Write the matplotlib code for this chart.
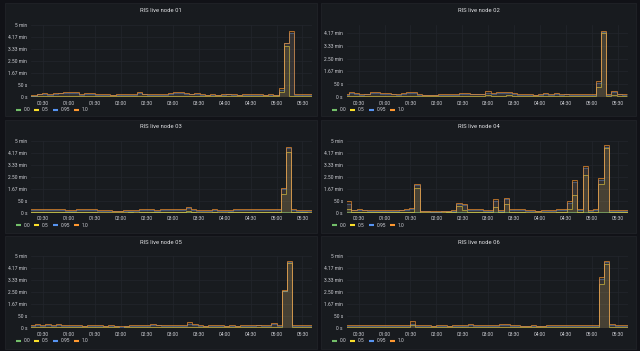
import matplotlib
matplotlib.use('Agg')
import matplotlib.pyplot as plt
from matplotlib.patches import Rectangle
from matplotlib.lines import Line2D
import numpy as np

plt.rcParams['font.family'] = ['Roboto', 'DejaVu Sans']

# ---------------- data ----------------
titles = ['RIS live node 01', 'RIS live node 02', 'RIS live node 03',
          'RIS live node 04', 'RIS live node 05', 'RIS live node 06']
series_names = ['0.0', '0.5', '0.95', '1.0']
series_colors = ['#73BF69', '#FADE2A', '#5794F2', '#FF9830']

step_min = 6.08                                # sample interval (minutes)
start_min = [10.5, 6.3, 6.7, 9.4, 8.2, 10.1]   # first sample time (minutes after 00:00)
ymax_s = [300, 281, 300, 300, 300, 300]

xtick_labels = ['00:30', '01:00', '01:30', '02:00', '02:30', '03:00',
                '03:30', '04:00', '04:30', '05:00', '05:30']
ytick_values = [0, 50, 100, 150, 200, 250, 300]
ytick_labels = ['0 s', '50 s', '1.67 min', '2.50 min', '3.33 min', '4.17 min', '5 min']

# values in seconds, one per interval
N01_p0 = [1,1,1,1,1,1,1,1,1,1,0,1,1,1,1,0,0,0,1,0,1,1,1,1,1,0,1,1,1,1,1,1,1,0,0,0,0,1,1,1,0,0,1,0,1,0,0,0,1,1,1,1,1,0,0]
N01_p50 = [3,3,4,5,4,5,5,6,6,5,3,5,5,4,4,3,3,3,4,3,4,5,4,4,4,3,4,5,6,6,5,4,5,3,3,3,3,4,4,4,3,3,4,3,4,3,3,3,20,212,5,4,4,3,3]
N01_p95 = [6,6,11,13,9,14,15,17,17,15,8,14,13,9,9,8,7,8,10,8,9,15,11,9,9,8,9,13,15,16,12,11,12,8,7,8,8,10,12,9,7,8,9,8,9,7,8,7,30,224,265,10,9,8,8]
N01_p100 = [8,8,14,17,12,17,18,21,21,19,11,18,17,12,12,11,10,11,13,11,12,19,14,12,12,11,12,17,19,19,15,14,15,11,10,11,10,12,14,12,10,11,12,11,12,10,11,10,36,226,276,13,12,11,11]

N02_p0 = [1,1,1,1,1,1,1,1,1,1,1,1,1,1,1,0,0,0,0,0,0,1,0,1,1,1,1,1,1,1,1,1,1,1,1,0,0,0,1,1,1,1,0,1,1,1,0,1,1,1,1,0,1,1,1]
N02_p50 = [3,4,5,4,4,4,5,5,4,4,4,4,4,5,5,4,3,3,3,3,3,4,3,4,5,4,4,4,6,5,5,5,6,4,4,3,3,3,4,4,4,4,3,4,4,4,3,4,4,40,249,3,6,4,4]
N02_p95 = [8,9,15,11,9,10,14,14,11,11,10,9,11,14,15,9,7,7,7,8,8,9,8,11,13,10,10,10,17,13,16,16,17,11,9,8,8,7,9,11,9,11,8,10,9,9,8,9,9,55,255,8,20,10,9]
N02_p100 = [10,12,20,14,12,13,18,18,14,14,13,12,14,18,18,12,9,9,9,10,10,12,10,14,17,13,13,13,22,17,20,20,21,14,12,10,10,9,12,14,12,14,10,13,12,12,10,12,12,62,258,10,25,13,12]

N03_p0 = [2,1,1,1,1,1,1,1,1,1,1,1,1,1,0,0,0,0,0,0,1,0,1,1,1,1,1,1,1,1,1,1,1,0,0,0,1,0,0,1,1,1,1,1,1,1,1,1,1,1,1,1,1,1,0]
N03_p50 = [11,4,4,4,5,5,4,4,4,4,4,5,5,4,3,3,3,3,3,3,4,3,4,5,4,4,4,5,5,4,4,6,5,3,3,3,5,3,3,4,4,5,5,4,5,4,4,5,4,78,254,4,4,4,3]
N03_p95 = [22,11,11,11,13,13,11,11,9,9,11,12,12,11,8,8,8,6,6,8,9,8,11,13,11,9,11,13,13,11,11,18,12,8,8,8,12,8,8,9,11,12,12,11,12,11,11,12,11,98,270,11,9,9,8]
N03_p100 = [28,14,14,14,17,17,14,14,12,12,14,15,15,14,11,10,10,8,8,11,12,11,14,17,14,12,14,17,17,14,14,22,15,11,10,11,15,11,10,12,14,15,15,14,15,14,14,15,14,102,275,14,12,12,11]

N04_p0 = [1,2,1,1,1,1,1,1,1,1,1,1,1,1,2,0,0,0,0,0,1,1,2,1,1,1,1,1,1,2,1,2,1,1,1,0,0,0,0,0,0,1,1,1,2,1,2,1,1,2,2,1,1,1,1]
N04_p50 = [3,17,4,4,4,4,4,4,3,4,4,4,4,5,104,2,2,2,2,2,3,4,28,10,5,5,5,3,4,24,4,37,5,5,4,3,3,3,3,3,3,5,4,17,75,4,158,4,4,121,269,3,3,3,3]
N04_p95 = [8,37,10,11,10,9,9,9,8,9,9,10,11,14,114,6,6,5,5,6,7,9,37,31,12,12,12,8,9,49,9,56,12,12,11,8,8,7,8,8,8,13,11,42,128,11,186,9,11,137,274,8,8,8,8]
N04_p100 = [10,50,13,14,13,12,12,12,11,12,12,13,14,21,121,8,8,7,7,8,9,12,42,35,15,15,15,10,12,58,12,61,15,15,14,10,10,9,10,11,10,17,14,50,137,14,193,12,14,144,280,11,11,10,10]

N05_p0 = [1,1,1,1,1,1,1,1,1,1,1,0,1,1,1,0,1,0,0,0,1,1,1,1,1,1,1,1,1,1,1,2,1,1,0,1,1,1,0,1,0,1,1,1,1,1,1,1,1,1,1,1,1,1,1]
N05_p50 = [4,3,5,4,5,3,5,4,3,4,3,3,4,4,3,3,3,3,2,3,3,4,3,4,5,4,4,3,4,4,4,6,5,3,3,3,4,3,3,4,3,3,4,4,4,4,3,5,4,153,273,4,4,3,4]
N05_p95 = [9,8,13,9,13,8,14,9,8,9,8,7,9,9,8,7,8,7,6,7,8,9,8,10,13,11,9,8,9,10,9,18,12,8,7,8,9,8,7,9,7,8,9,9,11,9,8,15,9,156,277,10,10,8,9]
N05_p100 = [12,11,17,12,17,11,18,12,11,12,11,10,12,12,11,10,11,10,9,10,11,12,11,13,17,14,12,11,12,13,12,25,15,11,10,11,12,11,10,12,10,11,12,12,14,12,11,20,12,160,280,14,13,11,12]

N06_p0 = [1,1,1,1,1,1,1,1,1,1,1,1,1,2,1,1,1,0,1,1,0,1,1,1,1,1,1,1,1,1,1,1,1,1,0,0,1,0,0,1,1,1,1,1,1,1,1,1,1,1,1,1,1,1,1]
N06_p50 = [3,4,3,4,3,3,4,4,3,4,4,4,4,11,4,3,3,3,3,3,3,4,3,4,5,4,3,4,4,4,4,5,4,3,3,3,3,3,3,3,4,3,4,4,4,4,4,4,4,185,269,4,4,4,4]
N06_p95 = [8,9,8,9,8,8,9,10,8,9,10,9,9,18,9,8,8,7,8,8,7,9,8,9,14,9,8,9,10,9,12,13,9,8,7,7,8,7,7,8,9,8,9,9,10,9,9,10,10,206,276,11,10,10,10]
N06_p100 = [11,12,11,12,11,11,12,13,11,12,13,12,12,28,12,11,11,10,11,11,10,12,11,12,18,12,11,12,13,12,15,17,12,11,10,10,11,10,10,11,12,11,12,12,13,12,12,13,13,213,280,15,14,13,13]

panel_series = [
    [N01_p0, N01_p50, N01_p95, N01_p100],
    [N02_p0, N02_p50, N02_p95, N02_p100],
    [N03_p0, N03_p50, N03_p95, N03_p100],
    [N04_p0, N04_p50, N04_p95, N04_p100],
    [N05_p0, N05_p50, N05_p95, N05_p100],
    [N06_p0, N06_p50, N06_p95, N06_p100],
]

# ---------------- layout (pixels) ----------------
W, H = 640, 351
PAGE_BG = '#111217'
PANEL_BG = '#181b1f'
PANEL_EDGE = '#202328'
GRID = '#23262c'
TICK_COLOR = '#cfd0d6'
TITLE_COLOR = '#e0e1e4'
line_alpha = [0.75, 0.65, 0.45, 0.7]

col_panel = [(5, 317), (321, 636)]
col_plot = [(31, 312), (346.5, 627.5)]
col_legend = [16, 331.5]
legend_dx = [0, 18, 37, 58]
row_panel_top = [3, 119.5, 235.5]
panel_h = 113
row_title = [11, 127, 242.3]
row_plot_top = [25, 140.7, 256.3]
row_plot_bot = [97, 212.7, 328]
row_legend = [110, 225.3, 341]

X_START, X_END = 16, 341

fig = plt.figure(figsize=(W / 100, H / 100), dpi=100, facecolor=PAGE_BG)


def fx(x):
    return x / W


def fy(y):
    return 1 - y / H


def hm_to_min(s):
    h, m = s.split(':')
    return int(h) * 60 + int(m)


xtick_pos = [hm_to_min(s) for s in xtick_labels]

for i, title in enumerate(titles):
    col, row = i % 2, i // 2
    px0, px1 = col_panel[col]
    ptop = row_panel_top[row]
    fig.add_artist(Rectangle((fx(px0), fy(ptop + panel_h)), (px1 - px0) / W, panel_h / H,
                             transform=fig.transFigure, facecolor=PANEL_BG,
                             edgecolor=PANEL_EDGE, linewidth=0.6, zorder=0))
    fig.text(fx((px0 + px1) / 2), fy(row_title[row]), title, ha='center', va='center',
             color=TITLE_COLOR, fontsize=4.2)

    ax0, ax1 = col_plot[col]
    at, ab = row_plot_top[row], row_plot_bot[row]
    ax = fig.add_axes([fx(ax0), fy(ab), (ax1 - ax0) / W, (ab - at) / H])
    ax.set_facecolor('none')
    for sp in ax.spines.values():
        sp.set_visible(False)

    n = len(panel_series[i][0])
    edges = start_min[i] + step_min * np.arange(n + 1)
    for k, (vals, c) in enumerate(zip(panel_series[i], series_colors)):
        v = np.asarray(vals, dtype=float)
        ax.stairs(v, edges, fill=True, color=c, alpha=0.10, baseline=0,
                  linewidth=0, zorder=2 + k)
        ax.stairs(v, edges, color=c, linewidth=0.62, baseline=None,
                  zorder=3 + k, alpha=line_alpha[k])

    ax.set_xlim(X_START, X_END)
    ax.set_ylim(0, ymax_s[i])
    yt = [(v, l) for v, l in zip(ytick_values, ytick_labels) if v <= ymax_s[i]]
    ax.set_yticks([v for v, _ in yt])
    ax.set_yticklabels([l for _, l in yt])
    ax.set_xticks(xtick_pos)
    ax.set_xticklabels(xtick_labels)
    ax.tick_params(axis='both', length=0, labelsize=3.5, colors=TICK_COLOR)
    ax.tick_params(axis='x', pad=2.6)
    ax.tick_params(axis='y', pad=2.7)
    ax.grid(True, color=GRID, linewidth=0.5, zorder=1)
    ax.set_axisbelow(True)

    # legend
    ly = fy(row_legend[row])
    for name, c, dx in zip(series_names, series_colors, legend_dx):
        lx = col_legend[col] + dx
        fig.add_artist(Line2D([fx(lx), fx(lx + 5)], [ly, ly], transform=fig.transFigure,
                              color=c, linewidth=1.5, solid_capstyle='butt'))
        fig.text(fx(lx + 8), ly, name, ha='left', va='center', color=TICK_COLOR,
                 fontsize=3.5)

fig.savefig('out.png', dpi=100, facecolor=PAGE_BG)
